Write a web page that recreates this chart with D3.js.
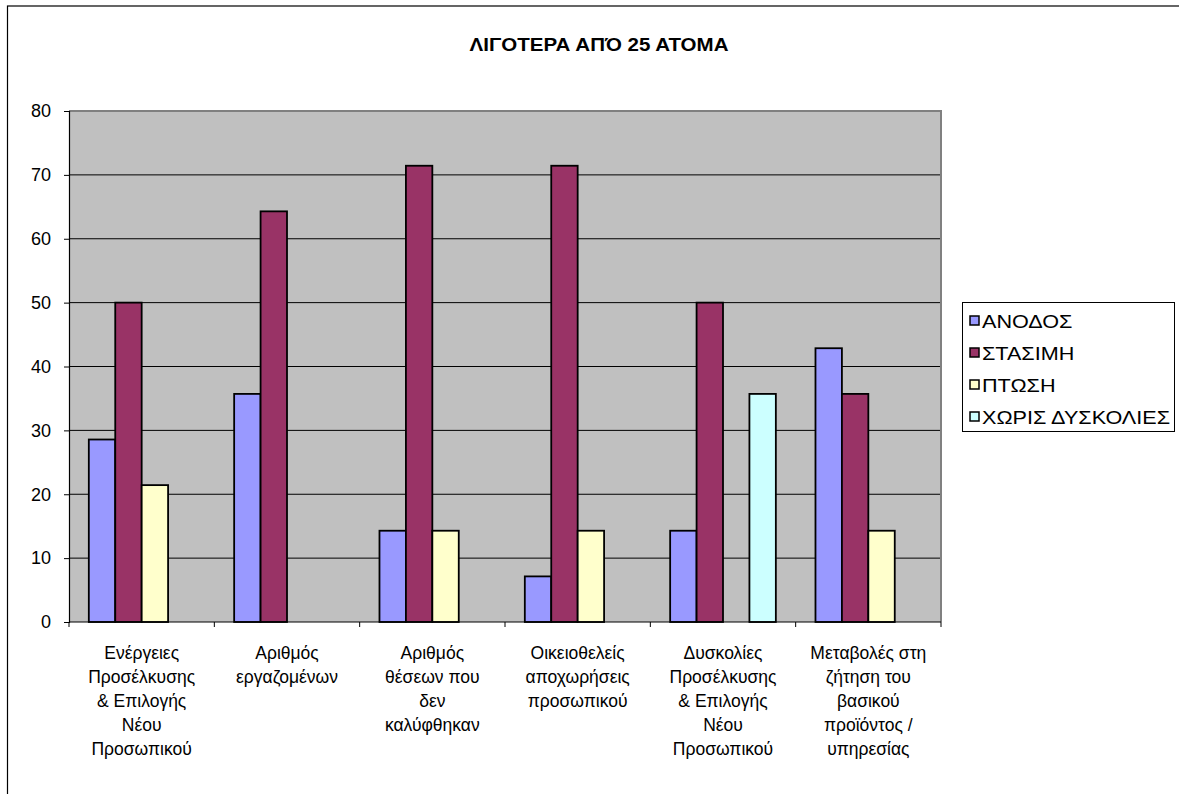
<!DOCTYPE html>
<html><head><meta charset="utf-8">
<script src="https://cdn.jsdelivr.net/npm/d3@7"></script>
<style>body{margin:0;background:#fff}svg{display:block;font-family:"Liberation Sans",Arial,sans-serif}</style>
</head><body>
<svg id="c" width="1179" height="794"></svg>
<script>
const title = "ΛΙΓΟΤΕΡΑ ΑΠΌ 25 ΑΤΟΜΑ";
const categories = [
  ["Ενέργειες","Προσέλκυσης","& Επιλογής","Νέου","Προσωπικού"],
  ["Αριθμός","εργαζομένων"],
  ["Αριθμός","θέσεων που","δεν","καλύφθηκαν"],
  ["Οικειοθελείς","αποχωρήσεις","προσωπικού"],
  ["Δυσκολίες","Προσέλκυσης","& Επιλογής","Νέου","Προσωπικού"],
  ["Μεταβολές στη","ζήτηση του","βασικού","προϊόντος /","υπηρεσίας"]
];
const seriesNames = ["ΑΝΟΔΟΣ","ΣΤΑΣΙΜΗ","ΠΤΩΣΗ","ΧΩΡΙΣ ΔΥΣΚΟΛΙΕΣ"];
const anodos   = [28.57, 35.71, 14.29, 7.14, 14.29, 42.86];
const stasimi  = [50.00, 64.29, 71.43, 71.43, 50.00, 35.71];
const ptosi    = [21.43, 0, 14.29, 14.29, 0, 14.29];
const xoris    = [0, 0, 0, 0, 35.71, 0];
const yTicks   = [0,10,20,30,40,50,60,70,80];
const colors = ["#9999FF","#993366","#FFFFCC","#CCFFFF"];
const series = [anodos, stasimi, ptosi, xoris];

const svg = d3.select("#c");
svg.append("rect").attr("x",7.5).attr("y",6).attr("width",1300).attr("height",900)
  .attr("fill","none").attr("stroke","#000").attr("stroke-width",1.2);

const L=69, R=941, T=111, B=622;
const x0 = d3.scaleBand().domain(d3.range(categories.length)).range([L,R]).paddingInner(0).paddingOuter(0);
const gw = x0.bandwidth();
const barW = gw/5.5;
const x1 = d3.scaleBand().domain(d3.range(4)).range([0.75*barW, 0.75*barW+4*barW]).padding(0);
const y = d3.scaleLinear().domain([0,80]).range([B,T]);

svg.append("rect").attr("x",L).attr("y",T).attr("width",R-L).attr("height",B-T).attr("fill","#C0C0C0");
svg.append("g").selectAll("line").data(yTicks.filter(d=>d>0 && d<80)).join("line")
  .attr("x1",L).attr("x2",R).attr("y1",d=>y(d)).attr("y2",d=>y(d)).attr("stroke","#000").attr("stroke-width",1);
svg.append("path").attr("d",`M${L},${T}H${R}V${B}`).attr("fill","none").attr("stroke","#808080").attr("stroke-width",2);

const g = svg.append("g");
series.forEach((vals,si)=>{
  g.selectAll(null).data(vals.map((v,i)=>({v,i}))).join("rect")
    .filter(d=>d.v>0)
    .attr("x",d=>x0(d.i)+x1(si)).attr("width",x1.bandwidth())
    .attr("y",d=>y(d.v)).attr("height",d=>B-y(d.v))
    .attr("fill",colors[si]).attr("stroke","#000").attr("stroke-width",1.8);
});

const ya = svg.append("g").attr("transform",`translate(${L},0)`)
  .call(d3.axisLeft(y).tickValues(yTicks).tickSize(5).tickPadding(13));
ya.select(".domain").attr("stroke","#000").attr("stroke-width",1.2);
ya.selectAll(".tick line").attr("stroke","#000");
ya.selectAll("text").attr("font-size",18).attr("fill","#000").attr("font-family","Liberation Sans, Arial");

svg.append("line").attr("x1",L).attr("x2",R).attr("y1",B).attr("y2",B).attr("stroke","#000").attr("stroke-width",1.2);
svg.append("g").selectAll("line").data(d3.range(categories.length+1)).join("line")
  .attr("x1",i=>L+i*gw).attr("x2",i=>L+i*gw).attr("y1",B).attr("y2",B+5).attr("stroke","#000");
const cl = svg.append("g").selectAll("text").data(categories).join("text")
  .attr("x",(d,i)=>x0(i)+gw/2).attr("y",659).attr("text-anchor","middle")
  .attr("font-size",17.5).attr("fill","#000");
cl.selectAll("tspan").data(d=>d).join("tspan")
  .attr("x",function(){return this.parentNode.getAttribute("x");})
  .attr("dy",(d,i)=>i===0?0:24).text(d=>d);

svg.append("g").attr("transform","translate(599,51) scale(1.14,1)")
  .append("text").attr("x",0).attr("y",0).attr("text-anchor","middle")
  .attr("font-size",18).attr("font-weight","bold").text(title);

const lg = svg.append("g");
lg.append("rect").attr("x",962.5).attr("y",302.5).attr("width",212).attr("height",129)
  .attr("fill","#fff").attr("stroke","#000").attr("stroke-width",1);
seriesNames.forEach((n,i)=>{
  const yy = 321 + i*32;
  lg.append("rect").attr("x",970).attr("y",yy-5).attr("width",9).attr("height",9)
    .attr("fill",colors[i]).attr("stroke","#000").attr("stroke-width",1.5);
  lg.append("g").attr("transform",`translate(982,${yy+7}) scale(1.2,1)`)
    .append("text").attr("x",0).attr("y",0).attr("font-size",18).text(n);
});
</script>
</body></html>
